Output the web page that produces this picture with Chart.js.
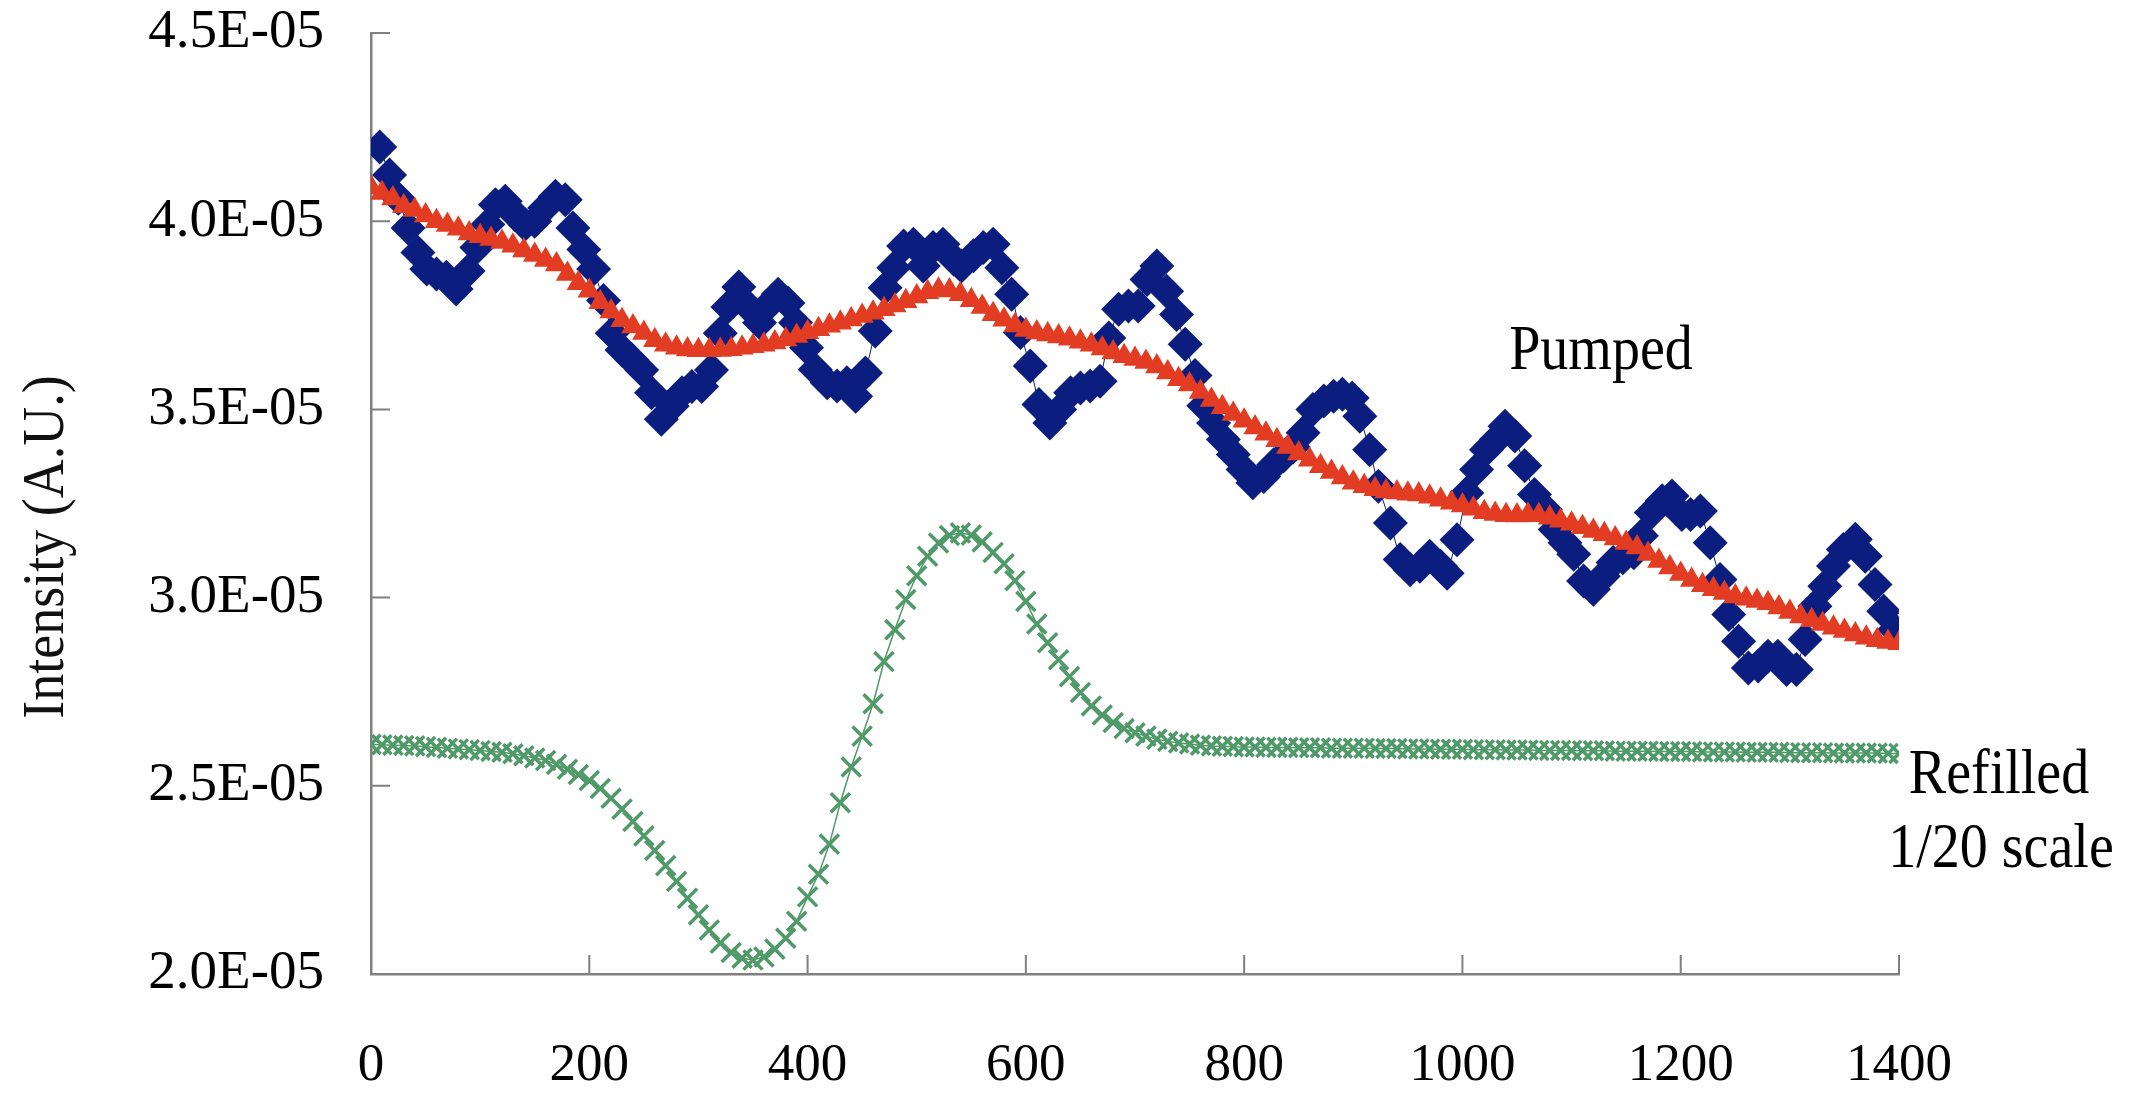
<!DOCTYPE html>
<html>
<head>
<meta charset="utf-8">
<title>Pumped / Refilled intensity</title>
<script src="https://cdn.jsdelivr.net/npm/chart.js"></script>
<style>
  html, body { margin: 0; padding: 0; background: #fff; }
  #wrap { width: 2145px; height: 1099px; }
</style>
</head>
<body>
<div id="wrap"><canvas id="chart" width="2145" height="1099"></canvas></div>
<script>
// values in units of 1E-05
const xTicks = [0, 200, 400, 600, 800, 1000, 1200, 1400];
const yTicks = [2.0, 2.5, 3.0, 3.5, 4.0, 4.5];

// Pumped (blue diamonds), read point by point
const pumpedX = [8, 17, 25, 34, 43, 51, 60, 69, 78, 89, 97, 107, 114, 123, 132, 141, 150, 159, 169, 178,
    185, 195, 204, 213, 221, 230, 239, 248, 257, 266, 276, 285, 294, 303, 312, 320, 327, 337, 346, 356,
    366, 373, 382, 389, 399, 407, 418, 427, 436, 444, 453, 462, 471, 479, 488, 497, 506, 515, 524, 534,
    541, 552, 561, 570, 578, 587, 595, 604, 612, 622, 631, 641, 650, 659, 668, 676, 685, 694, 703, 711,
    720, 729, 738, 746, 755, 763, 772, 781, 790, 799, 808, 818, 827, 836, 845, 854, 863, 873, 882, 890,
    899, 906, 915, 923, 934, 943, 952, 961, 970, 980, 986, 995, 1004, 1013, 1022, 1031, 1039, 1048, 1057, 1066,
    1076, 1085, 1094, 1102, 1111, 1120, 1129, 1138, 1147, 1157, 1164, 1173, 1183, 1192, 1201, 1209, 1218, 1227, 1236, 1244,
    1253, 1262, 1271, 1280, 1289, 1297, 1306, 1314, 1323, 1332, 1340, 1349, 1360, 1369, 1378, 1386, 1396];
const pumpedY = [4.197, 4.123, 4.061, 3.982, 3.917, 3.873, 3.860, 3.851, 3.820, 3.868, 3.930, 3.991, 4.044, 4.053, 4.018, 3.991, 4.000, 4.035, 4.066, 4.057,
    3.982, 3.925, 3.873, 3.789, 3.702, 3.658, 3.632, 3.605, 3.544, 3.474, 3.509, 3.544, 3.561, 3.561, 3.605, 3.702, 3.772, 3.825, 3.772, 3.730,
    3.783, 3.806, 3.783, 3.730, 3.664, 3.606, 3.571, 3.562, 3.571, 3.535, 3.597, 3.708, 3.823, 3.876, 3.934, 3.939, 3.881, 3.930, 3.939, 3.899,
    3.881, 3.908, 3.930, 3.939, 3.876, 3.806, 3.704, 3.615, 3.513, 3.464, 3.500, 3.544, 3.557, 3.562, 3.575, 3.690, 3.766, 3.775, 3.775, 3.845,
    3.881, 3.814, 3.752, 3.673, 3.590, 3.510, 3.464, 3.420, 3.380, 3.340, 3.305, 3.322, 3.353, 3.376, 3.400, 3.438, 3.500, 3.522, 3.535, 3.540,
    3.530, 3.482, 3.393, 3.296, 3.198, 3.101, 3.074, 3.083, 3.110, 3.083, 3.065, 3.154, 3.278, 3.340, 3.393, 3.420, 3.455, 3.429, 3.350, 3.274,
    3.234, 3.181, 3.146, 3.115, 3.044, 3.022, 3.057, 3.093, 3.106, 3.119, 3.164, 3.226, 3.257, 3.270, 3.221, 3.221, 3.230, 3.146, 3.048, 2.955,
    2.884, 2.813, 2.818, 2.844, 2.844, 2.809, 2.809, 2.889, 2.977, 3.030, 3.084, 3.128, 3.155, 3.110, 3.035, 2.964, 2.915];

// fit (red triangles) and Refilled (green crosses), one value every 10 units from 0 to 1400
const fitY = [4.090, 4.075, 4.060, 4.040, 4.030, 4.015, 4.000, 3.990, 3.980, 3.967,
    3.960, 3.953, 3.945, 3.935, 3.922, 3.910, 3.897, 3.885, 3.860, 3.835,
    3.815, 3.785, 3.760, 3.737, 3.720, 3.703, 3.684, 3.672, 3.664, 3.659,
    3.657, 3.657, 3.658, 3.660, 3.664, 3.668, 3.672, 3.678, 3.686, 3.695,
    3.705, 3.713, 3.722, 3.730, 3.739, 3.748, 3.757, 3.766, 3.776, 3.787,
    3.800, 3.811, 3.818, 3.816, 3.806, 3.790, 3.772, 3.753, 3.738, 3.723,
    3.711, 3.704, 3.699, 3.694, 3.688, 3.680, 3.672, 3.662, 3.651, 3.641,
    3.634, 3.626, 3.614, 3.598, 3.580, 3.566, 3.546, 3.525, 3.506, 3.488,
    3.470, 3.452, 3.435, 3.418, 3.400, 3.383, 3.366, 3.349, 3.334, 3.319,
    3.305, 3.296, 3.288, 3.282, 3.279, 3.276, 3.274, 3.268, 3.260, 3.252,
    3.245, 3.236, 3.227, 3.222, 3.219, 3.218, 3.220, 3.219, 3.212, 3.204,
    3.196, 3.187, 3.177, 3.168, 3.157, 3.145, 3.133, 3.116, 3.097, 3.080,
    3.063, 3.047, 3.033, 3.022, 3.012, 3.003, 2.997, 2.991, 2.985, 2.974,
    2.962, 2.950, 2.940, 2.930, 2.920, 2.911, 2.902, 2.893, 2.887, 2.882,
    2.879];
const refilledY = [2.610, 2.609, 2.608, 2.607, 2.606, 2.604, 2.602, 2.600, 2.598, 2.596,
    2.594, 2.591, 2.589, 2.585, 2.580, 2.574, 2.567, 2.557, 2.544, 2.530,
    2.514, 2.493, 2.467, 2.438, 2.405, 2.367, 2.328, 2.288, 2.246, 2.201,
    2.157, 2.117, 2.082, 2.057, 2.042, 2.037, 2.045, 2.066, 2.095, 2.140,
    2.205, 2.265, 2.345, 2.455, 2.550, 2.632, 2.718, 2.830, 2.915, 2.995,
    3.058, 3.110, 3.145, 3.165, 3.172, 3.166, 3.148, 3.120, 3.090, 3.045,
    2.990, 2.930, 2.880, 2.835, 2.790, 2.748, 2.712, 2.688, 2.668, 2.652,
    2.641, 2.632, 2.624, 2.618, 2.614, 2.611, 2.608, 2.606, 2.605, 2.604,
    2.603, 2.603, 2.602, 2.602, 2.602, 2.601, 2.601, 2.601, 2.600, 2.600,
    2.600, 2.600, 2.599, 2.599, 2.599, 2.598, 2.598, 2.598, 2.597, 2.597,
    2.597, 2.596, 2.596, 2.596, 2.595, 2.595, 2.595, 2.594, 2.594, 2.594,
    2.594, 2.593, 2.593, 2.593, 2.592, 2.592, 2.592, 2.592, 2.591, 2.591,
    2.591, 2.591, 2.590, 2.590, 2.590, 2.590, 2.589, 2.589, 2.589, 2.589,
    2.588, 2.588, 2.588, 2.588, 2.587, 2.587, 2.587, 2.587, 2.587, 2.586,
    2.586];
const evenX = fitY.map((_, i) => i * 10);

const SERIF = '"Liberation Serif", "Times New Roman", serif';
const AXIS_GRAY = '#808080';

const toPoints = (xs, ys) => xs.map((x, i) => ({ x: x, y: ys[i] }));

// inward tick marks on both axes
const innerTicks = {
    id: 'innerTicks',
    afterDraw(chart) {
        const { ctx, chartArea, scales } = chart;
        ctx.save();
        ctx.strokeStyle = AXIS_GRAY;
        ctx.lineWidth = 2;
        ctx.beginPath();
        xTicks.forEach(v => {
            const px = scales.x.getPixelForValue(v);
            ctx.moveTo(px, chartArea.bottom);
            ctx.lineTo(px, chartArea.bottom - 19);
        });
        yTicks.forEach(v => {
            const py = scales.y.getPixelForValue(v);
            ctx.moveTo(chartArea.left, py);
            ctx.lineTo(chartArea.left + 19, py);
        });
        ctx.stroke();
        ctx.restore();
    }
};

// axis title and curve labels (glyphs a little taller, as in the original)
function tallText(ctx, text, x, y, stretch) {
    ctx.save();
    ctx.translate(x, y);
    ctx.scale(1, stretch);
    ctx.fillText(text, 0, 0);
    ctx.restore();
}

const labels = {
    id: 'labels',
    afterDraw(chart) {
        const ctx = chart.ctx;
        ctx.save();
        ctx.fillStyle = '#000';
        ctx.textAlign = 'center';
        ctx.textBaseline = 'middle';
        ctx.font = '56px ' + SERIF;
        tallText(ctx, 'Pumped', 1601, 353, 1.12);
        tallText(ctx, 'Refilled', 1999, 777, 1.12);
        tallText(ctx, '1/20 scale', 2001, 851, 1.12);

        ctx.translate(48, 547);
        ctx.rotate(-Math.PI / 2);
        ctx.font = '54px ' + SERIF;
        ctx.fillStyle = '#111';
        tallText(ctx, 'Intensity (A.U.)', 0, 0, 1.08);
        ctx.restore();
    }
};

new Chart(document.getElementById('chart'), {
    type: 'line',
    data: {
        datasets: [
            {
                label: 'Fit',
                data: toPoints(evenX, fitY),
                borderColor: '#e23c22',
                backgroundColor: '#e23c22',
                borderWidth: 3,
                pointStyle: 'triangle',
                pointRadius: 13.5,
                pointBorderWidth: 0,
                order: 1
            },
            {
                label: 'Pumped',
                data: toPoints(pumpedX, pumpedY),
                borderColor: '#0c1d80',
                backgroundColor: '#0c1d80',
                borderWidth: 1,
                pointStyle: 'rectRot',
                pointRadius: 17.5,
                pointBorderWidth: 0,
                order: 2
            },
            {
                label: 'Refilled',
                data: toPoints(evenX, refilledY),
                borderColor: '#4f9a68',
                backgroundColor: '#4f9a68',
                borderWidth: 1.5,
                pointStyle: 'crossRot',
                pointRadius: 13.5,
                pointBorderWidth: 3.5,
                order: 3
            }
        ]
    },
    options: {
        responsive: false,
        animation: false,
        layout: { padding: { left: 0, right: 246, top: 33, bottom: 0 } },
        plugins: {
            legend: { display: false },
            tooltip: { enabled: false }
        },
        scales: {
            x: {
                type: 'linear',
                min: 0,
                max: 1400,
                afterFit: scale => {
                    scale.height = 125;
                    scale.paddingLeft = 0;
                    scale.paddingRight = 0;
                },
                afterBuildTicks: scale => { scale.ticks = xTicks.map(v => ({ value: v })); },
                grid: { display: false, drawTicks: false },
                border: { display: true, color: AXIS_GRAY, width: 2.5 },
                ticks: {
                    color: '#000',
                    font: { family: SERIF, size: 53 },
                    padding: 60,
                    maxRotation: 0,
                    callback: v => String(v)
                }
            },
            y: {
                min: 2.0,
                max: 4.5,
                afterFit: scale => {
                    scale.width = 371;
                    scale.paddingTop = 0;
                    scale.paddingBottom = 0;
                },
                afterBuildTicks: scale => { scale.ticks = yTicks.map(v => ({ value: v })); },
                grid: { display: false, drawTicks: false },
                border: { display: true, color: AXIS_GRAY, width: 2.5 },
                ticks: {
                    color: '#000',
                    font: { family: SERIF, size: 55 },
                    padding: 47,
                    callback: v => v.toFixed(1) + 'E-05'
                }
            }
        }
    },
    plugins: [innerTicks, labels]
});
</script>
</body>
</html>
